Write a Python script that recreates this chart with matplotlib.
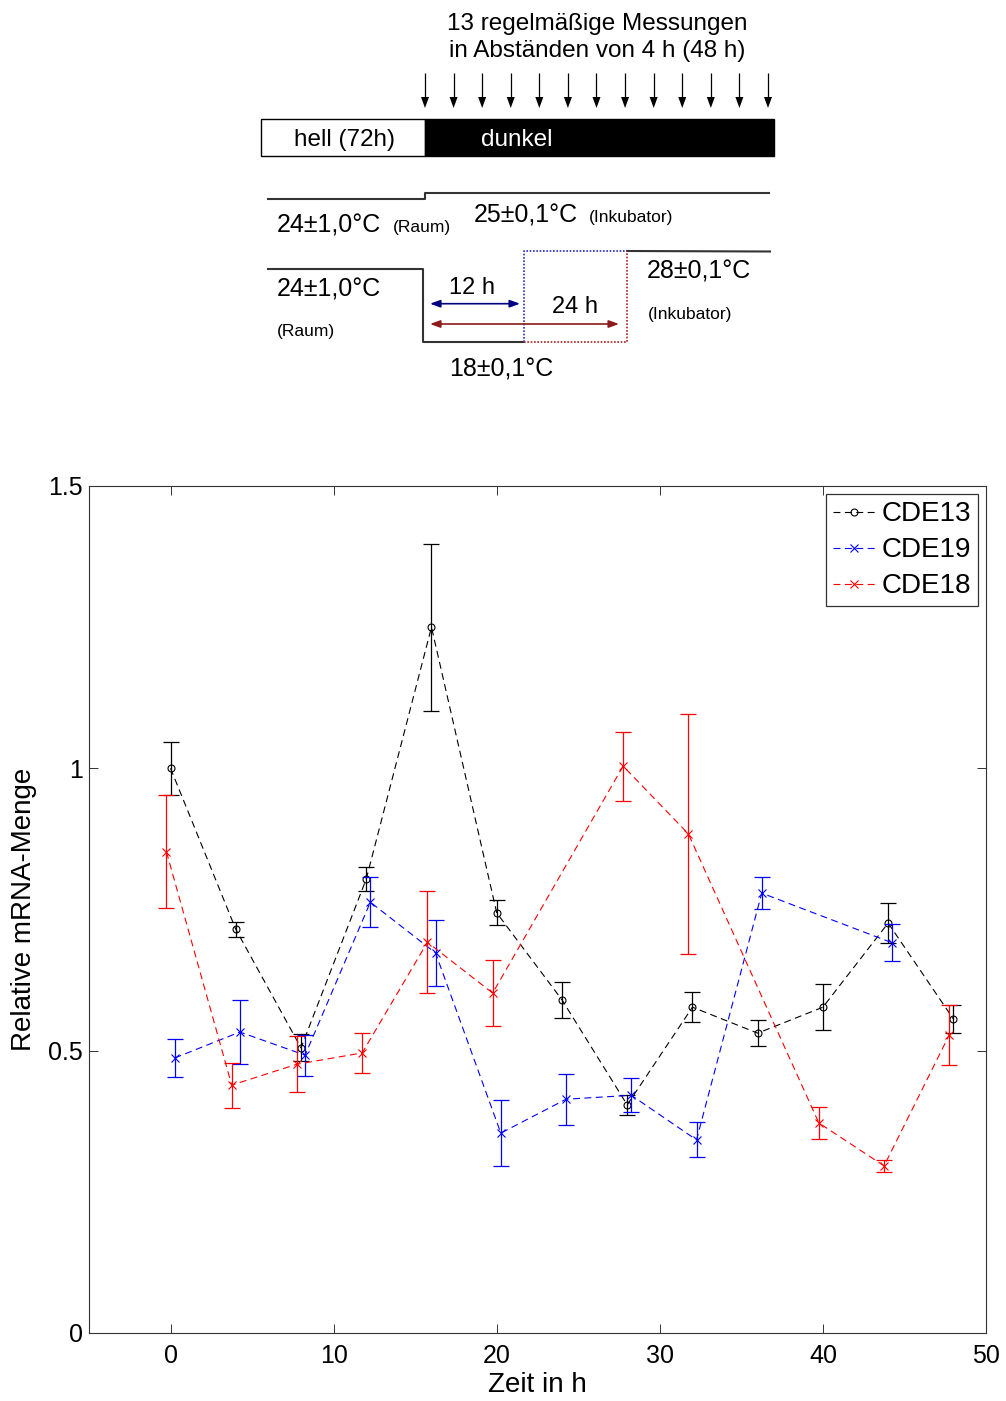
import numpy as np
import matplotlib
matplotlib.use("Agg")
import matplotlib.pyplot as plt
from matplotlib.patches import Rectangle, Polygon

plt.rcParams['font.family'] = ['Liberation Sans', 'DejaVu Sans']
plt.rcParams['lines.scale_dashes'] = False

# ---------------- data ----------------
times_cde13 = [0, 4, 8, 12, 16, 20, 24, 28, 32, 36, 40, 44, 48]
mean_cde13 = [1.00, 0.715, 0.505, 0.804, 1.250, 0.744, 0.590, 0.404, 0.577, 0.531, 0.577, 0.726, 0.556]
err_cde13 = [0.047, 0.013, 0.024, 0.022, 0.148, 0.022, 0.032, 0.018, 0.027, 0.023, 0.041, 0.036, 0.024]

times_cde19 = [0, 4, 8, 12, 16, 20, 24, 28, 32, 36, 44]
mean_cde19 = [0.487, 0.533, 0.492, 0.763, 0.673, 0.354, 0.414, 0.421, 0.342, 0.779, 0.691]
err_cde19 = [0.033, 0.056, 0.036, 0.044, 0.058, 0.058, 0.045, 0.030, 0.031, 0.028, 0.033]

times_cde18 = [0, 4, 8, 12, 16, 20, 28, 32, 40, 44, 48]
mean_cde18 = [0.852, 0.439, 0.476, 0.496, 0.692, 0.602, 1.004, 0.884, 0.372, 0.296, 0.528]
err_cde18 = [0.100, 0.040, 0.050, 0.036, 0.090, 0.058, 0.061, 0.213, 0.028, 0.011, 0.053]

series_names = ['CDE13', 'CDE19', 'CDE18']
x_ticks = [0, 10, 20, 30, 40, 50]
y_ticks = [0, 0.5, 1, 1.5]
y_tick_labels = ['0', '0.5', '1', '1.5']
measurement_times = list(range(0, 49, 4))

# ---------------- figure ----------------
fig = plt.figure(figsize=(10.06, 14.01), dpi=100)

# schematic overlay (pixel coordinates, y downward)
sk = fig.add_axes([0, 0, 1, 1])
sk.set_xlim(0, 1006)
sk.set_ylim(1401, 0)
sk.axis('off')
sk.patch.set_visible(False)

sk.text(597, 30, '13 regelmäßige Messungen', ha='center', va='baseline', fontsize=17.5)
sk.text(597, 57, 'in Abständen von 4 h (48 h)', ha='center', va='baseline', fontsize=17.5)

arrow_x = 425 + np.array(measurement_times) * (768 - 425) / 48.0
for x in arrow_x:
    sk.plot([x, x], [73, 98], color='black', lw=0.9, solid_capstyle='butt')
    sk.add_patch(Polygon([[x - 4, 97], [x + 4, 97], [x, 108]], closed=True,
                         facecolor='black', edgecolor='none'))

sk.add_patch(Rectangle((261, 119), 164, 37, facecolor='white', edgecolor='black', lw=1.0))
sk.add_patch(Rectangle((425, 119), 349, 37, facecolor='black', edgecolor='black', lw=1.0))
sk.text(294, 146, 'hell (72h)', va='baseline', ha='left', fontsize=17.5)
sk.text(481, 146, 'dunkel', va='baseline', ha='left', fontsize=17.5, color='white')

tcol = '#333333'
sk.plot([268, 425, 425, 769], [199, 199, 193, 193], color=tcol, lw=1.5)
sk.text(277, 232, '24±1,0°C', va='baseline', fontsize=18)
sk.text(393, 232, '(Raum)', va='baseline', fontsize=12.5)
sk.text(474, 222, '25±0,1°C', va='baseline', fontsize=18)
sk.text(589, 222, '(Inkubator)', va='baseline', fontsize=12.5)

sk.plot([268, 423, 423, 524], [269, 269, 342, 342], color=tcol, lw=1.5)
sk.plot([627, 770], [251, 251.5], color=tcol, lw=1.5)
sk.plot([524, 524, 627], [342, 251, 251], color='#3a3ad0', lw=1.3, ls=(0, (1.2, 1.2)))
sk.plot([524, 627, 627], [342, 342, 251], color='#b03030', lw=1.3, ls=(0, (1.2, 1.2)))

sk.text(277, 297, '24±1,0°C', va='baseline', fontsize=18)
sk.text(277, 336, '(Raum)', va='baseline', fontsize=12.5)
sk.text(449, 294, '12 h', va='baseline', fontsize=17)
sk.text(552, 313, '24 h', va='baseline', fontsize=17)
sk.text(449, 377, '18±0,1°C', va='baseline', fontsize=18)
sk.text(647, 279, '28±0,1°C', va='baseline', fontsize=18)
sk.text(648, 319, '(Inkubator)', va='baseline', fontsize=12.5)

sk.annotate('', xy=(520, 303.7), xytext=(430, 303.7),
            arrowprops=dict(arrowstyle='<|-|>,head_length=0.6,head_width=0.22',
                            color='#000080', lw=1.2, mutation_scale=10, shrinkA=0, shrinkB=0))
sk.annotate('', xy=(619, 324), xytext=(430, 324),
            arrowprops=dict(arrowstyle='<|-|>,head_length=0.6,head_width=0.22',
                            color='#8c1a1a', lw=1.2, mutation_scale=10, shrinkA=0, shrinkB=0))

# ---------------- main chart ----------------
ax = fig.add_axes([89 / 1006, 1 - 1333 / 1401, (986 - 89) / 1006, (1333 - 486) / 1401])
ax.set_xlim(-5, 50)
ax.set_ylim(0, 1.5)

specs = [
    (times_cde13, mean_cde13, err_cde13, 0.0, 'black', 'o'),
    (times_cde19, mean_cde19, err_cde19, 0.25, 'blue', 'x'),
    (times_cde18, mean_cde18, err_cde18, -0.25, 'red', 'x'),
]
handles = []
for (t, m, e, off, col, mk), name in zip(specs, series_names):
    xs = np.array(t) + off
    ax.errorbar(xs, m, yerr=e, fmt='none', ecolor=col, elinewidth=0.9,
                capsize=5.8, capthick=0.9)
    ln, = ax.plot(xs, m, color=col, lw=0.8, dashes=(5, 3.2), marker=mk,
                  markersize=5 if mk == 'o' else 5.5, markerfacecolor='none',
                  markeredgecolor=col, markeredgewidth=0.8, label=name)
    handles.append(ln)

ax.set_xticks(x_ticks)
ax.set_yticks(y_ticks, labels=y_tick_labels)
ax.tick_params(direction='in', length=6.5, width=0.7, top=True, right=True,
               labelsize=18, color='#333333')
ax.tick_params(axis='x', pad=8)
ax.tick_params(axis='y', pad=4.5)
for s in ax.spines.values():
    s.set_color('#333333')
    s.set_linewidth(0.8)

ax.set_xlabel('Zeit in h', fontsize=20, labelpad=3)
ax.set_ylabel('Relative mRNA-Menge', fontsize=20, labelpad=8)

leg = ax.legend(handles=handles, loc='upper right', fontsize=20, frameon=True,
                fancybox=False, edgecolor='#333333', framealpha=1,
                borderaxespad=0.3, handlelength=1.55, handletextpad=0.2,
                labelspacing=0.36, borderpad=0.25)
leg.get_frame().set_linewidth(0.9)

fig.savefig('out.png', dpi=100)
